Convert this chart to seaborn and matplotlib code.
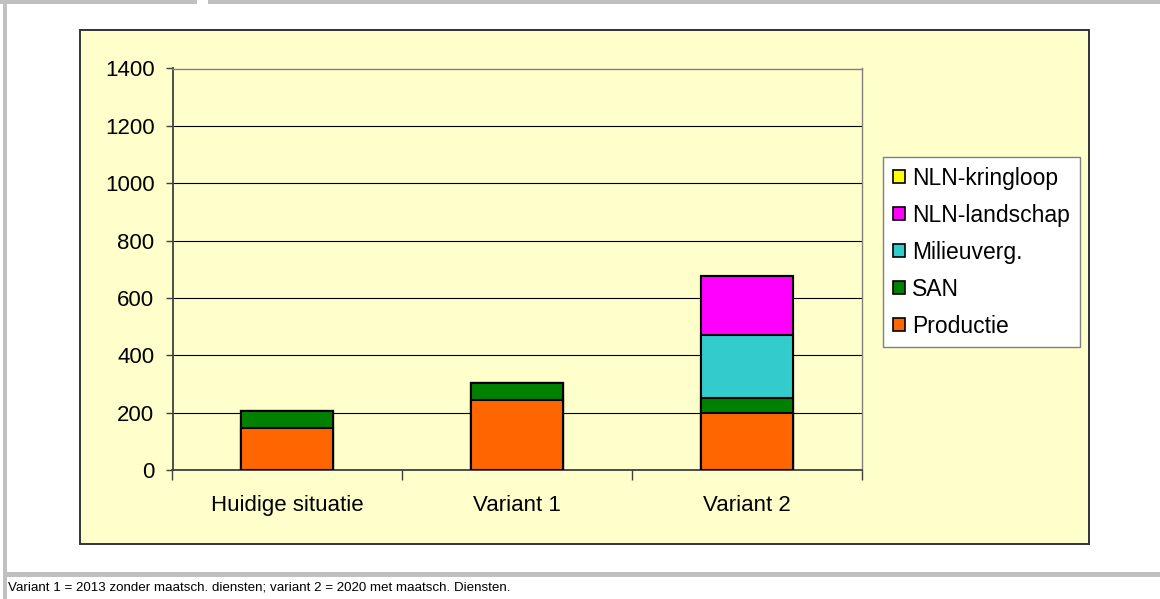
import matplotlib
matplotlib.use("Agg")
import matplotlib.pyplot as plt
import matplotlib.patches as mpatches
import seaborn as sns
import numpy as np
import pandas as pd

categories = ["Huidige situatie", "Variant 1", "Variant 2"]
productie = [148, 244, 198]
san = [58, 59, 54]
milieuverg = [0, 0, 219]
nln_landschap = [0, 0, 204]
nln_kringloop = [0, 0, 0]

series_names = ["Productie", "SAN", "Milieuverg.", "NLN-landschap", "NLN-kringloop"]
series_values = [productie, san, milieuverg, nln_landschap, nln_kringloop]
series_colors = ["#FF6600", "#008000", "#33CCCC", "#FF00FF", "#FFFF00"]

yticks = [0, 200, 400, 600, 800, 1000, 1200, 1400]
caption = "Variant 1 = 2013 zonder maatsch. diensten; variant 2 = 2020 met maatsch. Diensten."

plt.rcParams['font.family'] = ['Liberation Sans', 'DejaVu Sans']

W, H = 1160, 599
fig = plt.figure(figsize=(W / 100, H / 100), dpi=100)
fig.patch.set_facecolor("white")

def px_rect(x0, y0, x1, y1, **kw):
    return mpatches.Rectangle((x0 / W, 1 - y1 / H), (x1 - x0) / W, (y1 - y0) / H,
                              transform=fig.transFigure, zorder=-10, **kw)

# outer gray frame pieces
gray = "#C0C0C0"
fig.patches.append(px_rect(0, 0, 197, 4, facecolor=gray, edgecolor="none"))
fig.patches.append(px_rect(208, 0, W, 4, facecolor=gray, edgecolor="none"))
fig.patches.append(px_rect(3, 0, 7, H, facecolor=gray, edgecolor="none"))
fig.patches.append(px_rect(3, 572, W, 577, facecolor=gray, edgecolor="none"))

# chart area
yellow = "#FFFFCC"
fig.patches.append(px_rect(80, 30, 1089, 544, facecolor=yellow, edgecolor="#333333", linewidth=1.4))

ax = fig.add_axes([172.5 / W, 1 - 470 / H, (862 - 172.5) / W, (470 - 68.5) / H])
ax.set_facecolor("none")
ax.set_zorder(5)

cum = np.zeros(len(categories))
cums = []
for vals in series_values:
    cum = cum + np.array(vals, dtype=float)
    cums.append(cum.copy())

# draw from top layer down so lower layers overlay
for name, c, color in reversed(list(zip(series_names, cums, series_colors))):
    sns.barplot(x=categories, y=c, color=color, width=0.4, edgecolor="black",
                linewidth=1.5, saturation=1, errorbar=None, ax=ax, zorder=3)

ax.set_xlim(-0.5, 2.5)
ax.set_ylim(0, 1400)
ax.set_yticks(yticks)
ax.set_yticklabels([str(v) for v in yticks], fontsize=16)
ax.set_xticks(range(len(categories)))
ax.set_xticklabels(categories, fontsize=16)
ax.set_xticks([-0.5, 0.5, 1.5, 2.5], minor=True)
ax.tick_params(axis="x", which="major", length=0, pad=18)
ax.tick_params(axis="x", which="minor", length=7, width=1, color="#404040", direction="out")
ax.tick_params(axis="y", length=5, width=1, color="#404040", pad=8)
ax.set_xlabel("")
ax.set_ylabel("")
ax.grid(axis="y", color="black", linewidth=0.8, zorder=0)
ax.set_axisbelow(True)
for s in ["left", "bottom"]:
    ax.spines[s].set_color("#404040")
    ax.spines[s].set_linewidth(1.3)
for s in ["top", "right"]:
    ax.spines[s].set_color("#808080")
    ax.spines[s].set_linewidth(1.0)

handles = [mpatches.Patch(facecolor=col, edgecolor="black", linewidth=1.2, label=n)
           for n, col in zip(series_names, series_colors)]
handles = handles[::-1]
leg = fig.legend(handles=handles, loc="upper left",
                 bbox_to_anchor=(883 / W, 1 - 157 / H), fontsize=16.5,
                 frameon=True, fancybox=False, framealpha=1, edgecolor="#808080",
                 handlelength=0.55, handleheight=0.55, handletextpad=0.3,
                 labelspacing=0.61, borderpad=0.42, borderaxespad=0)
leg.get_frame().set_linewidth(1.0)
leg.set_zorder(10)

fig.text(8 / W, 1 - 588 / H, caption, fontsize=9.6, va="center", ha="left")

fig.savefig("out.png", dpi=100, facecolor="white")
